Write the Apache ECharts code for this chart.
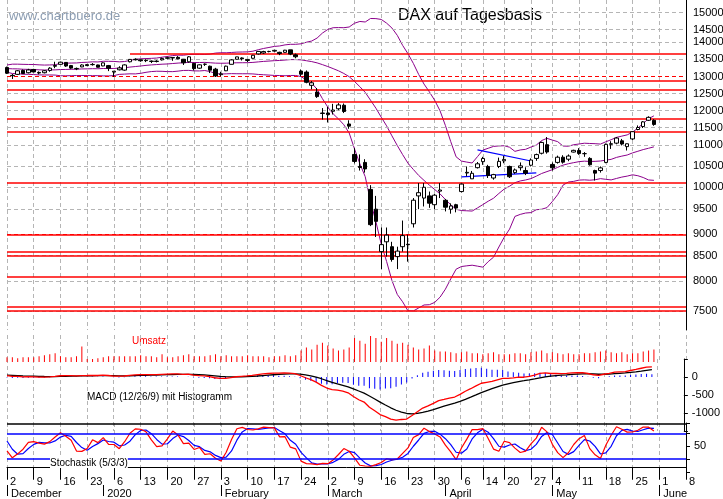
<!DOCTYPE html>
<html><head><meta charset="utf-8">
<script src="https://cdn.jsdelivr.net/npm/echarts@6/dist/echarts.min.js"></script>
<style>html,body{margin:0;padding:0;background:#fff}#c{width:723px;height:499px}</style>
</head><body><div id="c"></div>
<script>
const dates = ['12-02','12-03','12-04','12-05','12-06','12-09','12-10','12-11','12-12','12-13','12-16','12-17','12-18','12-19','12-20','12-23','12-27','12-30',
'01-02','01-03','01-06','01-07','01-08','01-09','01-10','01-13','01-14','01-15','01-16','01-17','01-20','01-21','01-22','01-23','01-24','01-27','01-28','01-29','01-30','01-31',
'02-03','02-04','02-05','02-06','02-07','02-10','02-11','02-12','02-13','02-14','02-17','02-18','02-19','02-20','02-21','02-24','02-25','02-26','02-27','02-28',
'03-02','03-03','03-04','03-05','03-06','03-09','03-10','03-11','03-12','03-13','03-16','03-17','03-18','03-19','03-20','03-23','03-24','03-25','03-26','03-27','03-30','03-31',
'04-01','04-02','04-03','04-06','04-07','04-08','04-09','04-14','04-15','04-16','04-17','04-20','04-21','04-22','04-23','04-24','04-27','04-28','04-29','04-30',
'05-04','05-05','05-06','05-07','05-08','05-11','05-12','05-13','05-14','05-15','05-18','05-19','05-20','05-21','05-22','05-25','05-26','05-27','05-28','05-29',
'06-01','06-02','06-03','06-04','06-05','06-08'];
const weekTicks = ['12-02','12-09','12-16','12-23','01-06','01-13','01-20','01-27','02-03','02-10','02-17','02-24','03-02','03-09','03-16','03-23','03-30','04-06','04-14','04-20','04-27','05-04','05-11','05-18','05-25','06-01','06-08'];
const monthStarts = {'12-02':'December','01-02':'2020','02-03':'February','03-02':'March','04-01':'April','05-04':'May','06-01':'June'};
const priceTicks = [7500,8000,8500,9000,9500,10000,10500,11000,11500,12000,12500,13000,13500,14000,14500,15000];
const redLevels = [12900,12540,12176,11755,11350,10117,8999,8586,8486,8097,7583,7460];
const dashedRedLevels = [13000,8942];
const topRedLevel = {from:'01-09', value:13660};
const triUpper = [['04-09',10914],['04-27',10636]];
const triLower = [['04-06',10245],['04-28',10341]];
// warm-up (November 2019) [open, close, low, high]
const warmOHLC = [[12900,12961,12880,12990],[13080,13137,13060,13150],[13140,13148,13100,13190],[13150,13180,13110,13200],[13200,13289,13190,13300],[13270,13228,13200,13290],
[13180,13198,13130,13220],[13200,13283,13190,13300],[13240,13230,13180,13260],[13200,13180,13140,13230],[13200,13242,13190,13260],[13240,13208,13180,13260],
[13230,13221,13190,13260],[13200,13148,13100,13230],[13120,13137,13050,13160],[13150,13163,13100,13200],[13220,13247,13210,13280],[13250,13233,13220,13290],
[13260,13287,13250,13300],[13260,13245,13220,13280],[13250,13236,13200,13280]];
// [open, close, low, high]
const ohlc = [[13240,13065,13040,13270],[13000,12989,12890,13040],[13030,13140,13010,13160],[13150,13055,13040,13180],[13080,13166,13060,13200],
[13180,13105,13090,13200],[13090,13070,13030,13120],[13080,13141,13060,13160],[13150,13221,13110,13250],[13300,13282,13220,13420],
[13340,13407,13330,13425],[13400,13287,13260,13410],[13300,13222,13200,13320],[13200,13212,13160,13240],[13260,13319,13250,13340],
[13330,13300,13290,13350],[13330,13337,13300,13380],[13320,13249,13240,13330],
[13290,13386,13280,13400],[13300,13219,13130,13320],[13100,13127,12950,13130],[13170,13227,13150,13280],[13160,13321,13140,13340],
[13420,13495,13400,13500],[13500,13483,13460,13530],[13480,13452,13420,13490],[13470,13456,13410,13500],[13440,13432,13380,13460],
[13440,13430,13400,13470],[13480,13526,13460,13550],[13530,13549,13500,13580],[13540,13556,13450,13570],[13560,13515,13500,13600],
[13500,13389,13320,13510],[13420,13577,13390,13600],[13370,13205,13150,13380],[13220,13324,13200,13340],[13340,13345,13290,13370],
[13280,13158,13070,13300],[13190,12982,12950,13230],
[13020,13046,12970,13110],[13140,13282,13130,13300],[13340,13479,13340,13500],[13500,13575,13490,13580],[13540,13514,13460,13560],
[13460,13494,13410,13500],[13530,13627,13520,13640],[13670,13749,13650,13760],[13700,13745,13670,13770],[13750,13745,13720,13770],
[13760,13784,13740,13800],[13720,13681,13630,13740],[13720,13790,13710,13800],[13800,13665,13630,13800],[13640,13579,13530,13680],
[13130,13035,12970,13180],[13100,12790,12760,13150],[12700,12775,12580,12830],[12500,12368,12330,12620],[11900,11890,11720,12040],
[11900,11857,11640,12070],[11950,11985,11860,12160],[12020,12128,11980,12180],[12120,11944,11900,12170],[11600,11541,11470,11700],
[10800,10625,10575,10960],[10500,10475,10400,10800],[10600,10439,10350,10680],[9950,9161,9130,10050],[9500,9232,8900,9800],
[8600,8742,8255,9100],[8800,8939,8500,9100],[8700,8442,8400,8800],[8500,8610,8255,8700],[8700,8929,8600,9250],
[8750,8741,8400,8950],[9180,9701,9100,9750],[9800,9874,9500,10100],[9750,10000,9560,10100],[9800,9633,9530,9900],
[9600,9816,9500,9850],[9910,9936,9750,10100],
[9700,9544,9450,9730],[9500,9571,9400,9630],[9600,9525,9430,9620],[9900,10075,9880,10090],[10340,10356,10260,10500],
[10200,10333,10200,10390],[10470,10565,10450,10610],[10620,10697,10540,10740],[10500,10280,10220,10540],[10220,10301,10180,10320],
[10500,10626,10460,10720],[10640,10676,10580,10760],[10500,10250,10220,10520],[10350,10415,10320,10450],[10470,10514,10400,10600],
[10400,10336,10290,10480],[10530,10660,10500,10700],[10700,10796,10640,10820],[10830,11108,10800,11130],[11050,10862,10820,11250],
[10550,10467,10400,10600],[10600,10730,10570,10770],[10730,10607,10570,10780],[10680,10760,10630,10800],[10860,10904,10850,10920],
[10900,10825,10790,10960],[10820,10820,10740,10860],[10700,10542,10520,10730],[10400,10337,10160,10420],[10400,10465,10350,10500],
[10600,11058,10580,11080],[11060,11075,10940,11140],[11090,11223,11060,11250],[11150,11066,11030,11200],[11000,11074,10900,11080],
[11200,11392,11170,11400],[11450,11504,11430,11560],[11530,11657,11490,11680],[11700,11781,11680,11810],[11700,11587,11550,11730]];
const volume = [5,5,4,5,5,5,6,7,8,9,6,5,5,6,16,3,3,4,
5,6,6,6,6,6,6,7,6,6,5,8,5,5,6,7,8,6,6,6,7,8,
6,7,6,6,6,7,6,6,6,5,6,6,7,6,7,12,15,13,18,20,
17,14,12,13,15,25,22,19,27,25,21,25,22,19,20,18,15,13,14,17,12,11,
11,10,9,10,11,9,9,8,9,10,8,8,8,9,9,8,10,11,12,9,
10,9,8,9,8,8,9,9,10,11,12,10,9,10,8,9,9,11,12,13];

// ---- indicators derived from the price data ----
const all = warmOHLC.concat(ohlc), W = warmOHLC.length, N = ohlc.length;
const C = all.map(d=>d[1]), L = all.map(d=>d[2]), H = all.map(d=>d[3]);
const bbU=[],bbM=[],bbL=[];
for(let i=W;i<all.length;i++){const s=C.slice(i-19,i+1);const m=s.reduce((a,b)=>a+b,0)/20;const sd=Math.sqrt(s.reduce((a,b)=>a+(b-m)*(b-m),0)/20);bbM.push(m);bbU.push(m+2*sd);bbL.push(m-2*sd);}
function ema(arr,n){const k=2/(n+1);const out=[arr[0]];for(let i=1;i<arr.length;i++)out.push(arr[i]*k+out[i-1]*(1-k));return out;}
const e12=ema(C,12),e26=ema(C,26);const macdA=C.map((_,i)=>e12[i]-e26[i]);const sigA=ema(macdA,9);
const macd=macdA.slice(W),sig=sigA.slice(W),hist=macd.map((v,i)=>v-sig[i]);
const fk=C.map((c,i)=>{if(i<4)return 50;const hh=Math.max(...H.slice(i-4,i+1)),ll=Math.min(...L.slice(i-4,i+1));return (c-ll)/(hh-ll)*100;});
const sma3=a=>a.map((v,i)=>i<2?v:(a[i]+a[i-1]+a[i-2])/3);
const skA=sma3(fk),sdA=sma3(skA);const sk=skA.slice(W),sd=sdA.slice(W);

const ln=Math.log;
const weekSet=new Set(weekTicks);
const gl=7, gr=37;
const vSplit={show:true,interval:(i,v)=>weekSet.has(v),lineStyle:{color:'#b5b5b5',type:[4,3],width:1}};
function xa(g,extra){return Object.assign({type:'category',gridIndex:g,data:dates,boundaryGap:false,axisLine:{show:false},axisTick:{show:false},axisLabel:{show:false},splitLine:vSplit},extra||{});}
const lineMl=(arr,color,type,w)=>arr.map(v=>({yAxis:ln(v),lineStyle:{color:color,type:type,width:w}}));
const gridMl=priceTicks.map(v=>({yAxis:ln(v),lineStyle:{color:'#b5b5b5',type:[4,3],width:1},label:{show:true,position:'end',formatter:String(v),color:'#000',fontSize:11,distance:7,fontFamily:'Liberation Sans'}}));
const purple='#8b008b';
const opt={animation:false,
grid:[{left:gl,right:gr,top:0,height:330},{left:gl,right:gr,top:335,height:27},{left:gl,right:gr,top:359,height:72},{left:gl,right:gr,top:423,height:53.7}],
xAxis:[xa(0),xa(1),xa(2),
 xa(3,{axisLine:{show:true,lineStyle:{color:'#000'}},axisTick:{show:true,interval:(i,v)=>weekSet.has(v),length:12,lineStyle:{color:'#000'}},
  axisLabel:{show:true,interval:(i,v)=>weekSet.has(v),formatter:v=>String(parseInt(v.slice(3),10)),align:'left',margin:4,padding:[0,0,0,3],fontSize:11,color:'#000',fontFamily:'Liberation Sans'}}),
 xa(3,{position:'bottom',offset:13,splitLine:{show:false},axisTick:{show:true,interval:(i,v)=>v in monthStarts,length:11,lineStyle:{color:'#000'}},
  axisLabel:{show:true,interval:(i,v)=>v in monthStarts,formatter:v=>monthStarts[v]||'',align:'left',margin:3,padding:[0,0,0,4],fontSize:11,color:'#000',fontFamily:'Liberation Sans'}})],
yAxis:[{type:'value',gridIndex:0,position:'right',min:8.8758,max:9.6493,axisLine:{show:true,lineStyle:{color:'#000'}},axisTick:{show:false},axisLabel:{show:false},splitLine:{show:false}},
 {type:'value',gridIndex:1,min:0,max:28,show:false},
 {type:'value',gridIndex:2,position:'right',min:-1500,max:500,interval:500,axisLine:{show:true,lineStyle:{color:'#000'}},axisTick:{show:true,length:4,lineStyle:{color:'#000'}},splitLine:{show:false},
  axisLabel:{formatter:v=>(v===0||v===-500||v===-1000)?String(v):'',fontSize:11,color:'#000',margin:8,fontFamily:'Liberation Sans'}},
 {type:'value',gridIndex:3,position:'right',min:-10,max:105,interval:30,axisLine:{show:true,lineStyle:{color:'#000'}},axisTick:{show:true,length:4,lineStyle:{color:'#000'}},splitLine:{show:false},
  axisLabel:{formatter:v=>v===50?'50':'',fontSize:11,color:'#000',margin:8,fontFamily:'Liberation Sans'}}],
series:[
 {type:'line',xAxisIndex:0,yAxisIndex:0,data:bbM.map(ln),symbol:'none',lineStyle:{color:purple,width:1},z:3,
  markLine:{silent:true,symbol:'none',label:{show:false},data:gridMl},z:2},
 {type:'line',xAxisIndex:0,yAxisIndex:0,data:bbU.map(ln),symbol:'none',lineStyle:{color:purple,width:1},z:3,
  markLine:{silent:true,symbol:'none',label:{show:false},data:lineMl(redLevels,'#ff0000','solid',1.5).concat(lineMl(dashedRedLevels,'#ff0000',[4,3],1.2)).concat([[{xAxis:topRedLevel.from,yAxis:ln(topRedLevel.value),lineStyle:{color:'#ff0000',width:1.5,type:'solid'}},{xAxis:dates[dates.length-1],yAxis:ln(topRedLevel.value)}]])}},
 {type:'line',xAxisIndex:0,yAxisIndex:0,data:bbL.map(ln),symbol:'none',lineStyle:{color:purple,width:1},z:3,
  markLine:{silent:true,symbol:'none',label:{show:false},lineStyle:{color:'#0000ff',width:1.2,type:'solid'},data:[
   [{xAxis:triUpper[0][0],yAxis:ln(triUpper[0][1])},{xAxis:triUpper[1][0],yAxis:ln(triUpper[1][1])}],
   [{xAxis:triLower[0][0],yAxis:ln(triLower[0][1])},{xAxis:triLower[1][0],yAxis:ln(triLower[1][1])}]]}},
 {type:'candlestick',xAxisIndex:0,yAxisIndex:0,barWidth:4,z:5,data:ohlc.map(d=>d.map(ln)),
  itemStyle:{color:'#fff',color0:'#000',borderColor:'#000',borderColor0:'#000',borderWidth:1}},
 {type:'bar',xAxisIndex:1,yAxisIndex:1,data:volume,barWidth:1,itemStyle:{color:'#ff0000'}},
 {type:'bar',xAxisIndex:2,yAxisIndex:2,data:hist,barWidth:1,itemStyle:{color:'#0000ff'}},
 {type:'line',xAxisIndex:2,yAxisIndex:2,data:sig,symbol:'none',lineStyle:{color:'#000',width:1.3}},
 {type:'line',xAxisIndex:2,yAxisIndex:2,data:macd,symbol:'none',lineStyle:{color:'#ff0000',width:1.3}},
 {type:'line',xAxisIndex:3,yAxisIndex:3,data:sd,symbol:'none',lineStyle:{color:'#0000ff',width:1.2},
  markLine:{silent:true,symbol:'none',label:{show:false},data:[{yAxis:80,lineStyle:{color:'#0000ff',width:1.5,type:'solid'}},{yAxis:20,lineStyle:{color:'#0000ff',width:1.5,type:'solid'}},{yAxis:104,lineStyle:{color:'#000',width:1.5,type:'solid'}}]}},
 {type:'line',xAxisIndex:3,yAxisIndex:3,data:sk,symbol:'none',lineStyle:{color:'#ff0000',width:1.2}}
],
graphic:[
 {type:'text',left:9,top:10,style:{text:'www.chartbuero.de',fill:'#8a9bb0',font:'13px "Liberation Sans"'}},
 {type:'text',left:398,top:8,style:{text:'DAX auf Tagesbasis',fill:'#000',font:'16px "Liberation Sans"'}},
 {type:'text',left:132,top:336,style:{text:'Umsatz',fill:'#ff0000',font:'10px "Liberation Sans"'}},
 {type:'text',left:87,top:392,style:{text:'MACD (12/26/9) mit Histogramm',fill:'#000',font:'10px "Liberation Sans"'}},
 {type:'text',left:50,top:458,z:10,style:{text:'Stochastik (5/3/3)',fill:'#000',backgroundColor:'#fff',font:'10px "Liberation Sans"'}}
]};
echarts.init(document.getElementById('c')).setOption(opt);
</script></body></html>
